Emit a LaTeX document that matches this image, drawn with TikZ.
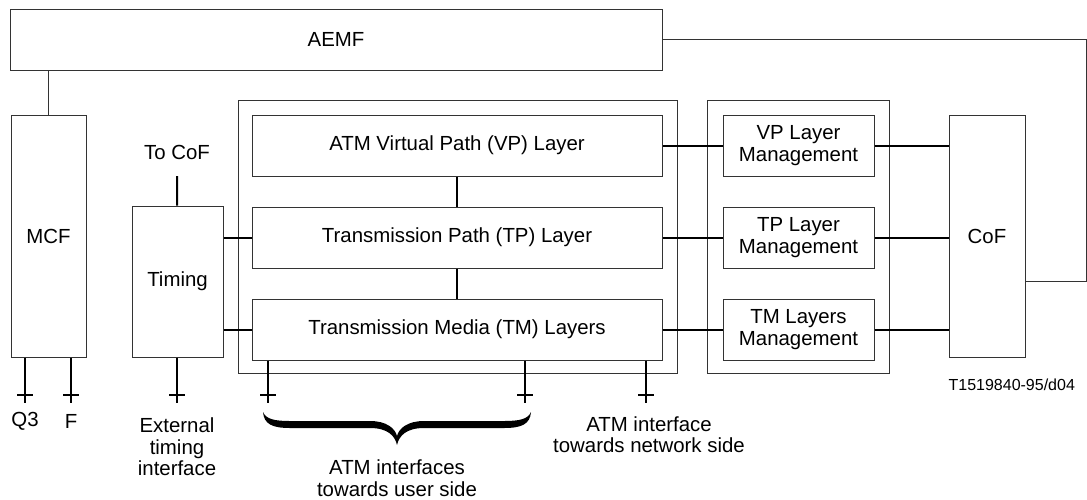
\documentclass[tikz,border=0pt]{standalone}
\usepackage{fontspec}
\setmainfont{Liberation Sans}
\usetikzlibrary{positioning}
\tikzset{every node/.style={ % Arial-like labels everywhere
font=\fontsize{10.2}{10.7}\selectfont},
block/.style={ % Sets the properties for each function block
draw=black!80, line width=0.5pt, align=center, inner sep=0pt},
layer/.style={block, minimum width=205pt, minimum height=30.5pt}, % ATM layers
manager/.style={block, minimum width=75.5pt, minimum height=30.5pt}, % layer management
frame/.style={draw=black!80, line width=0.5pt, inner sep=0pt}, % Grouping boxes
link/.style={draw, line width=1pt}, % Thick connectors
thin link/.style={draw=black!80, line width=0.5pt}}

\begin{document}
\begin{tikzpicture}[x=0.5pt, y=-0.5pt]
    \useasboundingbox (0,0) rectangle (1087,499);

    \node[frame, minimum width=219.5pt, minimum height=136.5pt] (atm) at (457.5,236.5) {};
    \node[frame, minimum width=91pt, minimum height=136.5pt] (mframe) at (798,236.5) {};

    \node[block, minimum width=326pt, minimum height=30.5pt] (aemf) at (336,39.5) {AEMF};
    \node[block, minimum width=37.5pt, minimum height=121pt] (mcf) at (48.5,236) {MCF};
    \node[block, minimum width=45.5pt, minimum height=75.5pt] (timing) at (177.5,281.5) {Timing};
    \node[block, minimum width=38pt, minimum height=121pt] (cof) at (987,236) {CoF};

    \node[layer] (vp) at (457,145.5) {ATM Virtual Path (VP) Layer};
    \node[layer, below=15pt of vp] (tp) {Transmission Path (TP) Layer};
    \node[layer, below=15pt of tp] (tm) {Transmission Media (TM) Layers};

    \node[manager] (vpm) at (798.5,145.5) {VP Layer\\Management};
    \node[manager, below=15pt of vpm] (tpm) {TP Layer\\Management};
    \node[manager, below=15pt of tpm] (tmm) {TM Layers\\Management};

    % free ends
    \coordinate (tocof) at (177,176);
    \coordinate (bend) at (1086,281);
    \coordinate (q3) at (25,395);
    \coordinate (f) at (71,395);
    \coordinate (ext) at (177,395);
    \coordinate (user1) at (268,395);
    \coordinate (user2) at (525,395);
    \coordinate (net) at (646,395);

    \draw[thin link] (mcf.north) -- (mcf.north |- aemf.south);
    \draw[thin link] (aemf.east) -| (bend) -- (bend -| cof.east);

    \draw[link] (vp) -- (tp);
    \draw[link] (tp) -- (tm);
    \draw[link] (timing.east |- tp) -- (tp.west);
    \draw[link] (timing.east |- tm) -- (tm.west);
    \draw[link] (timing) -- (tocof);

    \draw[link] (vp) -- (vpm);
    \draw[link] (tp) -- (tpm);
    \draw[link] (tm) -- (tmm);
    \draw[link] (vpm) -- (vpm -| cof.west);
    \draw[link] (tpm) -- (tpm -| cof.west);
    \draw[link] (tmm) -- (tmm -| cof.west);

    % interface pins
    \draw[link] (mcf.south -| q3) -- ([yshift=-4pt]q3) (q3) +(-4pt,0) -- +(4pt,0);
    \draw[link] (mcf.south -| f) -- ([yshift=-4pt]f) (f) +(-4pt,0) -- +(4pt,0);
    \draw[link] (timing.south -| ext) -- ([yshift=-4pt]ext) (ext) +(-4pt,0) -- +(4pt,0);
    \draw[link] (tm.south -| user1) -- ([yshift=-4pt]user1) (user1) +(-4pt,0) -- +(4pt,0);
    \draw[link] (tm.south -| user2) -- ([yshift=-4pt]user2) (user2) +(-4pt,0) -- +(4pt,0);
    \draw[link] (tm.south -| net) -- ([yshift=-4pt]net) (net) +(-4pt,0) -- +(4pt,0);

    % brace under the user side pins
    \fill (263,412) .. controls (264,424) and (272,428) .. (290,428) -- (370,428)
        .. controls (388,428) and (395,436) .. (397,445)
        .. controls (399,436) and (406,428) .. (424,428) -- (504,428)
        .. controls (522,428) and (530,424) .. (531,412)
        .. controls (528,419) and (520,421) .. (504,421) -- (424,421)
        .. controls (408,421) and (399,428) .. (397,436)
        .. controls (395,428) and (386,421) .. (370,421) -- (290,421)
        .. controls (274,421) and (266,419) .. (263,412) -- cycle;

    \node (tocoflabel) at (177,152) {To CoF};
    \node (q3label) at (25,421) {Q3};
    \node (flabel) at (71,421) {F};
    \node[align=center] (extlabel) at (177,447) {External\\timing\\interface};
    \node[align=center] (userlabel) at (397,478) {ATM interfaces\\towards user side};
    \node[align=center] (netlabel) at (649,435) {ATM interface\\towards network side};
    \node[anchor=east, font=\fontsize{8}{9}\selectfont] (reflabel) at (1082,385) {T1519840-95/d04};

\end{tikzpicture}
\end{document}
